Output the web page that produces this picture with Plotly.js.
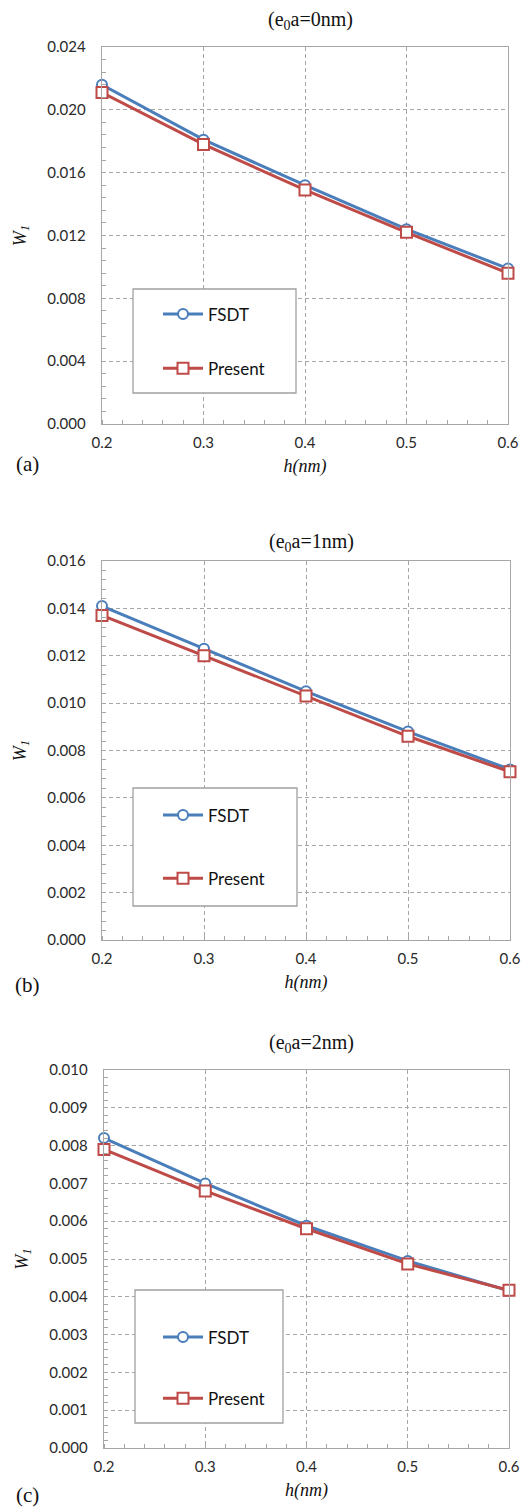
<!DOCTYPE html>
<html>
<head>
<meta charset="utf-8">
<script src="https://cdn.plot.ly/plotly-3.0.1.min.js"></script>
<style>html,body{margin:0;padding:0;background:#fff;}#chart{width:524px;height:1508px;}</style>
</head>
<body>
<div id="chart"></div>
<script>
// ---- data ----
var h = [0.2, 0.3, 0.4, 0.5, 0.6];
var xTicks = [0.2, 0.3, 0.4, 0.5, 0.6];
var seriesNames = ["FSDT", "Present"];
var panelTitles = ["(e<sub>0</sub>a=0nm)", "(e<sub>0</sub>a=1nm)", "(e<sub>0</sub>a=2nm)"];
var panelLabels = ["(a)", "(b)", "(c)"];
var fsdtA = [0.0216, 0.0181, 0.0152, 0.0124, 0.0099];
var presentA = [0.0211, 0.0178, 0.0149, 0.0122, 0.0096];
var fsdtB = [0.0141, 0.0123, 0.0105, 0.0088, 0.0072];
var presentB = [0.0137, 0.0120, 0.0103, 0.0086, 0.0071];
var fsdtC = [0.0082, 0.0070, 0.00588, 0.00495, 0.00416];
var presentC = [0.0079, 0.0068, 0.0058, 0.00487, 0.00417];
var yMax = [0.024, 0.016, 0.010];
var yDtick = [0.004, 0.002, 0.001];

// ---- layout helpers (pixel -> paper) ----
var W = 524, H = 1508;
function px(x) { return x / W; }
function py(y) { return 1 - y / H; }

var blue = "#4a7ebb", red = "#be4b48";
var gridC = "#a6a6a6", axC = "#a6a6a6";
var tickFont = {family: "Lato, 'Open Sans', sans-serif", size: 15, color: "#2a2a2a"};
var serif = "'Liberation Serif', 'DejaVu Serif', serif";

var panels = [
  {x0: 102, x1: 508, top: 47, bot: 424, fs: fsdtA, pr: presentA, box: [133, 289, 296, 393], legMid: 341.5, gap: 29, titleY: 21, labelY: 464},
  {x0: 102, x1: 510, top: 561, bot: 940, fs: fsdtB, pr: presentB, box: [133, 788, 297, 906], legMid: 847, gap: 38, titleY: 543, labelY: 985},
  {x0: 104, x1: 509, top: 1070, bot: 1448, fs: fsdtC, pr: presentC, box: [135, 1290, 283, 1423], legMid: 1368, gap: 36, titleY: 1043, labelY: 1495}
];

var data = [];
var layout = {
  width: W, height: H,
  margin: {l: 0, r: 0, t: 0, b: 0},
  paper_bgcolor: "#fff", plot_bgcolor: "#fff",
  showlegend: true,
  shapes: [], annotations: []
};

panels.forEach(function (p, i) {
  var sfx = i === 0 ? "" : String(i + 1);
  var legName = "legend" + sfx;
  var vals = [p.fs, p.pr];
  vals.forEach(function (v, k) {
    data.push({
      x: h, y: v, type: "scatter", mode: "lines+markers", name: seriesNames[k],
      xaxis: "x" + sfx, yaxis: "y" + sfx, legend: legName, legendgroup: "g" + i + k,
      cliponaxis: false,
      line: {color: k === 0 ? blue : red, width: 3},
      marker: {symbol: k === 0 ? "circle" : "square", size: k === 0 ? 10 : 11,
               color: "#fff", line: {color: k === 0 ? blue : red, width: 2}}
    });
  });
  layout["xaxis" + sfx] = {
    domain: [px(p.x0), px(p.x1)], anchor: "y" + sfx,
    range: [0.2, 0.6], tickvals: xTicks, tickformat: ".1f", ticks: "",
    showgrid: true, gridcolor: gridC, griddash: "4px,3px", gridwidth: 1,
    showline: true, linecolor: axC, linewidth: 1.3, mirror: true, zeroline: false,
    tickfont: tickFont, ticklabelstandoff: 5,
    minor: {dtick: 0.02, ticks: "inside", ticklen: 4, tickcolor: axC, showgrid: false},
    title: {text: "<i>h(nm)</i>", font: {family: serif, size: 18, color: "#111"}, standoff: 9}
  };
  layout["yaxis" + sfx] = {
    domain: [py(p.bot), py(p.top)], anchor: "x" + sfx,
    range: [0, yMax[i]], dtick: yDtick[i], tick0: 0, tickformat: ".3f", ticks: "",
    showgrid: true, gridcolor: gridC, griddash: "4px,3px", gridwidth: 1,
    showline: true, linecolor: axC, linewidth: 1.3, mirror: true, zeroline: false,
    tickfont: tickFont, ticklabelstandoff: 12,
    minor: {dtick: yDtick[i] / 5, ticks: "inside", ticklen: 4, tickcolor: axC, showgrid: false},
    title: {text: "<i>W<sub>1</sub></i>", font: {family: serif, size: 18, color: "#111"}, standoff: 16}
  };
  layout[legName] = {
    x: px(158), xanchor: "left", y: py(p.legMid), yanchor: "middle",
    bgcolor: "rgba(0,0,0,0)", borderwidth: 0, tracegroupgap: p.gap,
    font: {family: "Lato, 'Open Sans', sans-serif", size: 17, color: "#111"},
    itemwidth: 40
  };
  layout.shapes.push({
    type: "rect", xref: "paper", yref: "paper", layer: "above",
    x0: px(p.box[0]), x1: px(p.box[2]), y0: py(p.box[3]), y1: py(p.box[1]),
    line: {color: "#a0a0a0", width: 1.3}, fillcolor: "#fff"
  });
  layout.annotations.push({
    xref: "paper", yref: "paper", x: px((p.x0 + p.x1) / 2 + 5), y: py(p.titleY),
    xanchor: "center", yanchor: "middle", showarrow: false,
    text: panelTitles[i], font: {family: serif, size: 20, color: "#111"}
  });
  layout.annotations.push({
    xref: "paper", yref: "paper", x: px(27), y: py(p.labelY),
    xanchor: "center", yanchor: "middle", showarrow: false,
    text: panelLabels[i], font: {family: serif, size: 21, color: "#111"}
  });
});

Plotly.newPlot("chart", data, layout, {staticPlot: true});
</script>
</body>
</html>
